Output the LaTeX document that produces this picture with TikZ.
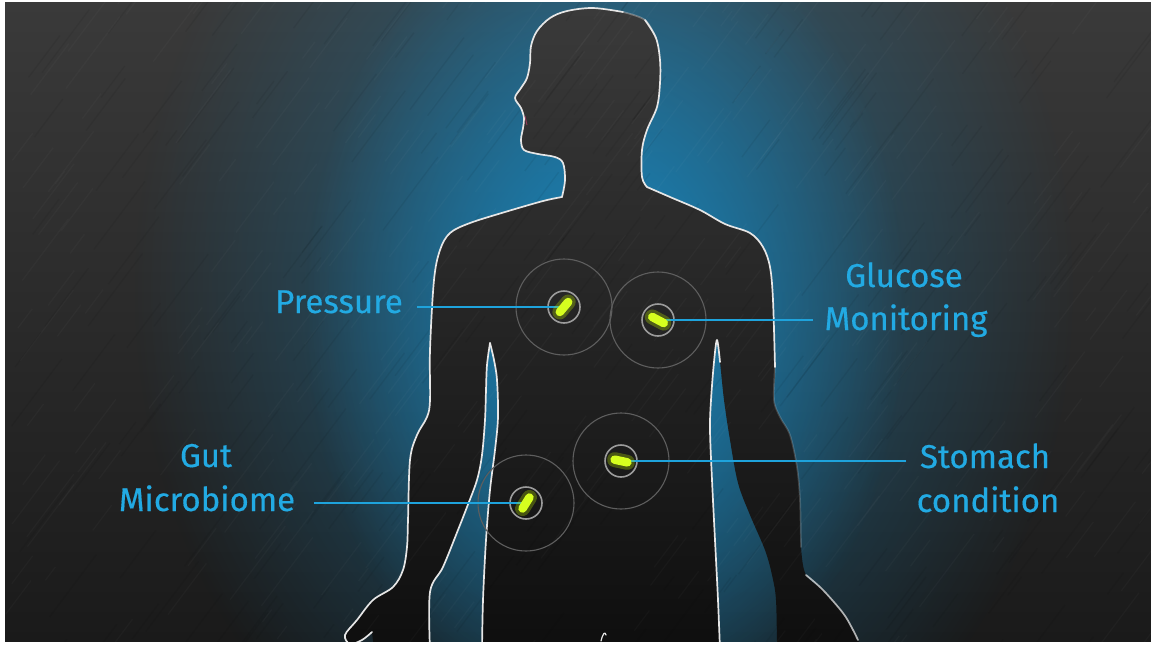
\documentclass[tikz,border=0pt]{standalone}
\usepackage{fontspec}
\setmainfont{Fira Sans}
\newfontfamily\labelfont[FakeBold=0.4]{Fira Sans}
\usetikzlibrary{fadings}

\definecolor{bgtop}{HTML}{3A3A3A}
\definecolor{bgbot}{HTML}{1A1A1A}
\definecolor{glow}{HTML}{1888C0}
\definecolor{bodytop}{HTML}{3A3A3A}
\definecolor{bodybot}{HTML}{0E0E0E}
\definecolor{edge}{HTML}{E6E6E6}
\definecolor{cyanline}{HTML}{1EA3DC}
\definecolor{cyantext}{HTML}{22AAE3}
\definecolor{pillc}{HTML}{D6FF1F}
\definecolor{pillhalo}{HTML}{B8E600}
\definecolor{ringlight}{HTML}{9C9C9C}
\definecolor{ringdark}{HTML}{5E5E5E}
\definecolor{lipcol}{HTML}{C0406A}

\tikzfading[name=softglow, inner color=transparent!0, outer color=transparent!100]

\tikzset{
  outline/.style={draw=edge, line width=1.7pt, line cap=round, line join=round},
  link/.style={draw=cyanline, line width=2pt},
  lbl/.style={text=cyantext, font=\labelfont\fontsize{33}{38}\selectfont, inner sep=0pt, anchor=base},
  ringin/.style={draw=ringlight, line width=1.6pt},
  ringout/.style={draw=ringdark, line width=1.1pt},
  capsule/.style={draw=pillc, line width=8.5pt, line cap=round},
  halo/.style={draw=pillhalo, line width=15pt, line cap=round, draw opacity=.3},
  streak/.style={line width=1.3pt},
}

% glowing capsule at a named point, with a tilt angle
\newcommand{\drawpill}[2]{%
  \begin{scope}[shift={(#1)}, rotate=#2]
    \draw[halo] (-6.5,0) -- (6.5,0);
    \draw[capsule] (-6.5,0) -- (6.5,0);
  \end{scope}}

\begin{document}
\begin{tikzpicture}[x=1pt, y=-1pt]
\useasboundingbox (0,0) rectangle (1151,646);
\fill[white] (0,0) rectangle (1151,646);

\begin{scope}
\clip (5,2) rectangle (1151,641);
% slate background
\shade[top color=bgtop, bottom color=bgbot] (5,2) rectangle (1151,641);
% blue back light
\fill[glow, path fading=softglow, fill opacity=.6] (605,290) ellipse [x radius=470, y radius=560];
\fill[glow, path fading=softglow, fill opacity=.9] (605,310) ellipse [x radius=300, y radius=420];

% silhouette
\shade[top color=bodytop, bottom color=bodybot]
  (374,650)
  -- plot[smooth, tension=.55] coordinates {(372,632) (362,640) (350,644) (345,635) (357,620) (373,600) (393,587) (403,570) (407,547) (408,520) (410,460) (417,435) (427,417) (430,400) (430,350) (434,280) (440,250) (450,233) (470,223) (505,212) (543,201) (562,197)}
  -- plot[smooth, tension=.55] coordinates {(562,197) (565,180) (563,163) (555,157) (538,154) (524,150) (521,140) (523,128) (524,118) (521,108) (515,98) (521,88) (527,78) (530,63) (531,46) (537,31) (550,18) (567,11) (593,8) (623,12) (645,20) (656,38) (660,60) (660,83) (657,107) (647,130) (642,150) (642,177) (647,187)}
  -- plot[smooth, tension=.55] coordinates {(647,187) (670,197) (700,210) (725,224) (750,233) (763,247) (770,267) (773,300) (775,367) (774,400) (780,417) (790,435) (797,467) (800,500) (801,547) (806,575) (823,590) (843,613) (852,628) (858,640) (862,650)}
  -- (777,650)
  -- plot[smooth, tension=.55] coordinates {(777,650) (776,600) (772,575) (765,550) (750,515) (738,483) (730,440) (724,400) (720,362) (717,340)}
  -- plot[smooth, tension=.55] coordinates {(717,340) (714,362) (711,400) (710,430) (712,480) (715,540) (718,600) (720,650)}
  -- (482,650)
  -- plot[smooth, tension=.55] coordinates {(482,650) (483,600) (486,540) (490,490) (495,450) (498,417) (497,380) (494,360) (490,343)}
  -- plot[smooth, tension=.55] coordinates {(490,343) (487,365) (486,390) (485,420) (482,455) (477,480) (467,507) (458,530) (443,567) (430,592) (430,650)}
  -- cycle;

% brushed slate streaks
\pgfmathsetseed{11}
\foreach \i in {1,...,300}{
  \pgfmathsetmacro{\xa}{5+rnd*1146}
  \pgfmathsetmacro{\ya}{2+rnd*700}
  \pgfmathsetmacro{\len}{15+rnd*80}
  \draw[streak, draw=white, draw opacity=.022] (\xa,\ya) -- ++({0.6*\len},{-0.8*\len});
}
\foreach \i in {1,...,260}{
  \pgfmathsetmacro{\xa}{5+rnd*1146}
  \pgfmathsetmacro{\ya}{2+rnd*700}
  \pgfmathsetmacro{\len}{15+rnd*80}
  \draw[streak, draw=black, draw opacity=.06] (\xa,\ya) -- ++({0.6*\len},{-0.8*\len});
}

% rim light
\draw[outline] plot[smooth, tension=.55] coordinates {(372,632) (362,640) (350,644) (345,635) (357,620) (373,600) (393,587) (403,570) (407,547) (408,520) (410,460) (417,435) (427,417) (430,400) (430,350) (434,280) (440,250) (450,233) (470,223) (505,212) (543,201) (562,197)};
\draw[outline] plot[smooth, tension=.55] coordinates {(562,197) (565,180) (563,163) (555,157) (538,154) (524,150) (521,140) (523,128) (524,118) (521,108) (515,98) (521,88) (527,78) (530,63) (531,46) (537,31) (550,18) (567,11) (593,8) (623,12)};
\draw[outline, draw opacity=.35] plot[smooth, tension=.55] coordinates {(623,12) (645,20) (656,38)};
\draw[outline] plot[smooth, tension=.55] coordinates {(645,20) (656,38) (660,60) (660,83) (657,107) (647,130) (642,150) (642,177) (647,187)};
\draw[outline] plot[smooth, tension=.55] coordinates {(647,187) (670,197) (700,210) (725,224) (750,233) (763,247) (770,267) (773,300) (775,367)};
\draw[outline, draw opacity=.2] plot[smooth, tension=.55] coordinates {(775,367) (774,400) (780,417) (790,435) (797,467) (800,500) (801,547)};
\draw[outline, draw opacity=.75] plot[smooth, tension=.55] coordinates {(806,575) (823,590) (843,613) (852,628) (858,640)};
\draw[outline] plot[smooth, tension=.55] coordinates {(482,650) (483,600) (486,540) (490,490) (495,450) (498,417) (497,380) (494,360) (490,343)};
\draw[outline] plot[smooth, tension=.55] coordinates {(490,343) (487,365) (486,390) (485,420) (482,455) (477,480) (467,507) (458,530) (443,567) (430,592) (430,650)};
\draw[outline] plot[smooth, tension=.55] coordinates {(720,362) (717,340) (714,362) (711,400) (710,430) (712,480) (715,540) (718,600) (720,650)};
\draw[outline, line width=1.2pt] (601,641) .. controls (603,633) and (605,631) .. (606,635);
\draw[draw=lipcol, line width=.9pt, draw opacity=.7] (525,116) -- (527,125);
\end{scope}

% capsule positions and connector ends
\coordinate (p1) at (564,307);
\coordinate (p2) at (658,320);
\coordinate (p3) at (621,461);
\coordinate (p4) at (526,503);
\coordinate (e1) at (417,307);
\coordinate (e2) at (813,320);
\coordinate (e3) at (906,461);
\coordinate (e4) at (314,503);

% signal rings
\foreach \p in {p1,p2,p3,p4}{
  \draw[ringout] (\p) circle [radius=48];
  \draw[ringin] (\p) circle [radius=16];
}

% connectors
\draw[link] (e1) -- (p1);
\draw[link] (p2) -- (e2);
\draw[link] (p3) -- (e3);
\draw[link] (e4) -- (p4);

% capsules
\drawpill{p1}{50}
\drawpill{p2}{-28}
\drawpill{p3}{-12}
\drawpill{p4}{58}

% labels
\node[lbl] (pressure) at (339,313) {Pressure};
\node[lbl] (glucose) at (904,287) {Glucose};
\node[lbl] (monitoring) at (906,330) {Monitoring};
\node[lbl] (gut) at (206,467) {Gut};
\node[lbl] (microbiome) at (207,511) {Microbiome};
\node[lbl] (stomach) at (985,468) {Stomach};
\node[lbl] (condition) at (988,512) {condition};
\end{tikzpicture}
\end{document}
